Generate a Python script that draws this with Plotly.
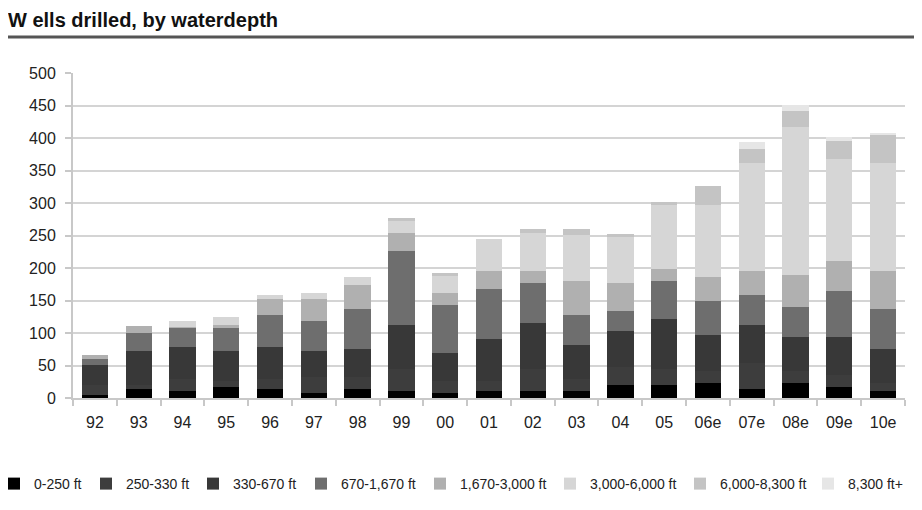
import plotly.graph_objects as go

categories = ["92", "93", "94", "95", "96", "97", "98", "99", "00", "01",
              "02", "03", "04", "05", "06e", "07e", "08e", "09e", "10e"]

s_0_250 =      [5, 14, 11, 17, 14, 8, 14, 11, 8, 11, 11, 11, 20, 20, 23, 14, 23, 17, 11]
s_250_330 =    [15, 6, 18, 9, 15, 24, 18, 34, 18, 15, 34, 18, 28, 25, 19, 40, 19, 18, 12]
s_330_670 =    [31, 52, 49, 46, 49, 40, 43, 67, 43, 65, 70, 53, 55, 77, 55, 58, 52, 59, 52]
s_670_1670 =   [9, 28, 31, 37, 50, 46, 62, 114, 74, 77, 62, 46, 31, 58, 52, 46, 46, 71, 62]
s_1670_3000 =  [6, 11, 1, 3, 24, 34, 37, 28, 19, 27, 18, 52, 43, 18, 37, 37, 49, 46, 58]
s_3000_6000 =  [0, 0, 8, 13, 6, 10, 12, 18, 27, 50, 59, 71, 71, 99, 111, 167, 228, 157, 167]
s_6000_8300 =  [0, 0, 0, 0, 0, 0, 0, 5, 3, 0, 6, 9, 4, 5, 29, 21, 25, 27, 43]
s_8300_plus =  [0, 0, 0, 0, 0, 0, 0, 0, 0, 0, 0, 0, 0, 0, 0, 11, 9, 7, 3]

series_names = ["0-250 ft", "250-330 ft", "330-670 ft", "670-1,670 ft",
                "1,670-3,000 ft", "3,000-6,000 ft", "6,000-8,300 ft", "8,300 ft+"]
series_values = [s_0_250, s_250_330, s_330_670, s_670_1670,
                 s_1670_3000, s_3000_6000, s_6000_8300, s_8300_plus]
series_colors = ["#000000", "#3d3d3d", "#383838", "#6e6e6e",
                 "#b0b0b0", "#d6d6d6", "#c4c4c4", "#e6e6e6"]

y_ticks = [0, 50, 100, 150, 200, 250, 300, 350, 400, 450, 500]

# page body has an 8px margin, so figure coords = screen coords - 8
OFF = 8
W, H = 922 - OFF, 510 - OFF
L, T = 73 - OFF, 73 - OFF
pw, ph = 832, 325
R = W - L - pw
B = H - T - ph

def px_x(X):
    return (X - OFF - L) / pw

def px_y(Y):
    return (T + ph - (Y - OFF)) / ph

# screen x where each legend entry's text starts
legend_text_x = [34, 126, 233, 341, 460, 590, 720, 848]

fig = go.Figure()
legend_layouts = {}
for i, (name, vals, col) in enumerate(zip(series_names, series_values, series_colors)):
    key = "legend" if i == 0 else f"legend{i + 1}"
    fig.add_trace(go.Bar(x=categories, y=vals, name=name, legend=key,
                         marker=dict(color=col, line=dict(width=0))))
    legend_layouts[key] = dict(
        orientation="h", x=px_x(legend_text_x[i] - 40), xanchor="left",
        y=px_y(484), yanchor="middle",
        font=dict(size=14, color="#222222"),
        itemwidth=30, bgcolor="rgba(0,0,0,0)", borderwidth=0)

fig.update_layout(
    width=W, height=H,
    barmode="stack", bargap=0.4,
    plot_bgcolor="white", paper_bgcolor="white",
    margin=dict(l=L, r=R, t=T, b=B, autoexpand=False),
    font=dict(family="Liberation Sans, Arial, sans-serif", size=13, color="#222222"),
    title=dict(text="<b>W ells drilled, by waterdepth</b>", xref="container", yref="container",
               x=0, xanchor="left", y=1 - (20 - OFF) / H, yanchor="middle",
               pad=dict(l=0, r=0, t=0, b=0),
               font=dict(size=20, color="#111111")),
    showlegend=True,
    xaxis=dict(type="category", showgrid=False, showline=True, linecolor="#c8c8c8",
               linewidth=2, ticks="outside", tickson="boundaries", ticklen=6,
               tickcolor="#c8c8c8", tickwidth=2, tickfont=dict(size=16, color="#222222"),
               ticklabelstandoff=9),
    yaxis=dict(range=[0, 500], tickvals=y_ticks, showgrid=True, gridcolor="#d4d4d4",
               gridwidth=2, showline=True, linecolor="#c8c8c8", linewidth=2,
               ticks="outside", ticklen=6, tickcolor="#c8c8c8", tickwidth=2,
               tickfont=dict(size=16, color="#222222"), ticklabelstandoff=6,
               zeroline=False),
    **legend_layouts,
)

fig.add_shape(type="line", xref="paper", yref="paper",
              x0=px_x(4), x1=px_x(930),
              y0=px_y(37), y1=px_y(37),
              line=dict(color="#555555", width=3))

fig.write_html("out.html")
